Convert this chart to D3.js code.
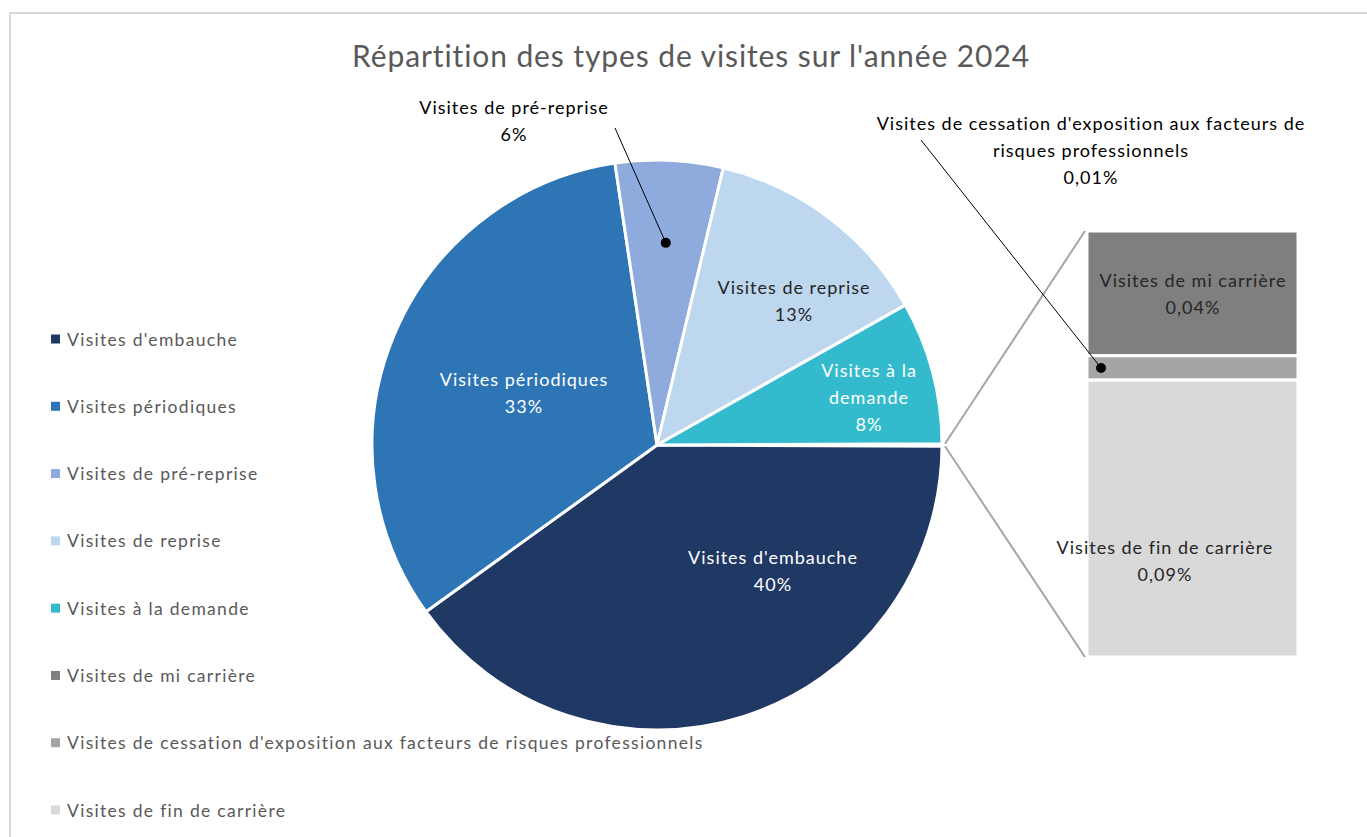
<!DOCTYPE html>
<html>
<head>
<meta charset="utf-8">
<script src="https://cdn.jsdelivr.net/npm/d3@7"></script>
<style>
  body { margin: 0; background: #fff; }
  svg text { font-family: Lato, "Open Sans", sans-serif; }
</style>
</head>
<body>
<svg id="chart" width="1367" height="837"></svg>
<script>
// pie part (percent of all visits)
const pieNames = ["Visites d'embauche", 'Visites périodiques', 'Visites de pré-reprise', 'Visites de reprise', 'Visites à la demande'];
const pieValues = [40.0, 32.6, 6.1, 13.1, 8.1];
const pieLabels = ['40%', '33%', '6%', '13%', '8%'];

// bar part (the small types split out of the pie)
const barNames = ['Visites de mi carrière', "Visites de cessation d'exposition aux facteurs de risques professionnels", 'Visites de fin de carrière'];
const barValues = [0.041, 0.008, 0.091];
const barLabels = ['0,04%', '0,01%', '0,09%'];

const colors = ['#203864', '#2e75b6', '#8faadc', '#bdd7ee', '#33bbcd', '#7f7f7f', '#a5a5a5', '#d9d9d9'];
const legendNames = pieNames.concat(barNames);

const svg = d3.select('#chart');
const cx = 657;
const cy = 445;
const radius = 285;

// chart frame
svg.append('path')
  .attr('d', 'M10,1000 V13 H1400')
  .attr('fill', 'none')
  .attr('stroke', '#d9d9d9')
  .attr('stroke-width', 2);

svg.append('text')
  .attr('x', 691)
  .attr('y', 55)
  .attr('text-anchor', 'middle')
  .attr('dominant-baseline', 'central')
  .attr('fill', '#595959')
  .attr('font-size', 30)
  .attr('letter-spacing', 0.9)
  .text("Répartition des types de visites sur l'année 2024");

// pie, with the "other" slice centred on 3 o'clock
const otherTotal = d3.sum(barValues);
const total = d3.sum(pieValues) + otherTotal;
const otherAngle = (otherTotal / total) * 2 * Math.PI;
const start = Math.PI / 2 + otherAngle / 2;
const pie = d3.pie().sort(null).startAngle(start).endAngle(start + 2 * Math.PI);
const arcs = pie(pieValues.concat([otherTotal]));
const arc = d3.arc().innerRadius(0).outerRadius(radius);

const pieG = svg.append('g').attr('transform', `translate(${cx},${cy})`);
pieG.selectAll('path')
  .data(arcs.slice(0, 5))
  .join('path')
  .attr('d', arc)
  .attr('fill', (d, i) => colors[i])
  .attr('stroke', '#fff')
  .attr('stroke-width', 3)
  .attr('stroke-linejoin', 'round');

// bar of pie
const barX = 1087;
const barW = 211;
const y = d3.scaleLinear().domain([0, otherTotal]).range([231, 657]);
const stacked = d3.cumsum([0].concat(barValues));
const barG = svg.append('g');
barG.selectAll('rect')
  .data(barValues)
  .join('rect')
  .attr('x', barX)
  .attr('width', barW)
  .attr('y', (d, i) => y(stacked[i]))
  .attr('height', (d, i) => y(stacked[i + 1]) - y(stacked[i]))
  .attr('fill', (d, i) => colors[5 + i])
  .attr('stroke', '#fff')
  .attr('stroke-width', 3);

// connector lines from the other slice to the bar
const other = arcs[5];
[other.startAngle, other.endAngle].forEach((a, i) => {
  const px = cx + (radius + 3) * Math.sin(a);
  const py = cy - (radius + 3) * Math.cos(a);
  svg.append('line')
    .attr('x1', px).attr('y1', py)
    .attr('x2', barX - 2).attr('y2', i === 0 ? y(0) : y(otherTotal))
    .attr('stroke', '#a6a6a6')
    .attr('stroke-width', 2);
});

// data labels
const lineH = 27;
function label(x, yc, lines, fill) {
  const t = svg.append('text')
    .attr('text-anchor', 'middle')
    .attr('fill', fill)
    .attr('font-size', 18)
    .attr('letter-spacing', 1);
  const y0 = yc - ((lines.length - 1) * lineH) / 2;
  lines.forEach((s, i) => {
    t.append('tspan')
      .attr('x', x)
      .attr('y', y0 + i * lineH)
      .attr('dominant-baseline', 'central')
      .text(s);
  });
}

const pieLabelPos = [[773, 570], [524, 392], [514, 120], [794, 300], [869, 397]];
const pieLabelLines = [
  [pieNames[0], pieLabels[0]],
  [pieNames[1], pieLabels[1]],
  [pieNames[2], pieLabels[2]],
  [pieNames[3], pieLabels[3]],
  ['Visites à la', 'demande', pieLabels[4]],
];
const pieLabelFill = ['#fff', '#fff', '#000', '#262626', '#fff'];
pieLabelPos.forEach((p, i) => label(p[0], p[1], pieLabelLines[i], pieLabelFill[i]));

label(1193, 293, [barNames[0], barLabels[0]], '#262626');
label(1091, 150, ["Visites de cessation d'exposition aux facteurs de", 'risques professionnels', barLabels[1]], '#000');
label(1165, 560, [barNames[2], barLabels[2]], '#262626');

// leader lines with dots
const pre = arcs[2];
const preMid = (pre.startAngle + pre.endAngle) / 2;
const preDot = [cx + 0.71 * radius * Math.sin(preMid), cy - 0.71 * radius * Math.cos(preMid)];
const cesDot = [barX + 14, (y(stacked[1]) + y(stacked[2])) / 2];
[[[615, 128], preDot], [[921, 140], cesDot]].forEach(([from, to]) => {
  svg.append('line')
    .attr('x1', from[0]).attr('y1', from[1])
    .attr('x2', to[0]).attr('y2', to[1])
    .attr('stroke', '#000')
    .attr('stroke-width', 1);
  svg.append('circle')
    .attr('cx', to[0]).attr('cy', to[1])
    .attr('r', 5)
    .attr('fill', '#000');
});

// legend
const legendY = d3.scalePoint().domain(d3.range(legendNames.length)).range([339, 810]);
const legend = svg.append('g')
  .selectAll('g')
  .data(legendNames)
  .join('g')
  .attr('transform', (d, i) => `translate(0,${legendY(i)})`);
legend.append('rect')
  .attr('x', 51).attr('y', -4.5)
  .attr('width', 9).attr('height', 9)
  .attr('fill', (d, i) => colors[i]);
legend.append('text')
  .attr('x', 67)
  .attr('dominant-baseline', 'central')
  .attr('fill', '#595959')
  .attr('font-size', 17.5)
  .attr('letter-spacing', 1.3)
  .text(d => d);
</script>
</body>
</html>
